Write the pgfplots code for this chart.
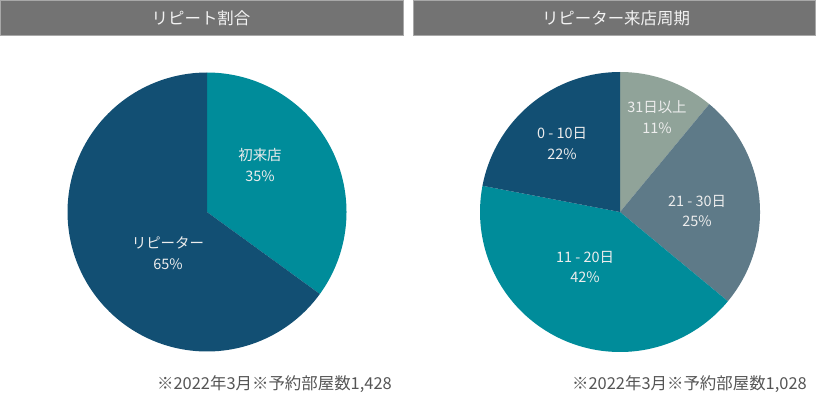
\documentclass[border=0pt]{standalone}
\usepackage{fontspec}
\setmainfont{Noto Sans CJK JP}
\usepackage{pgfplots}
\pgfplotsset{compat=1.18}
\definecolor{cdark}{HTML}{124F73}
\definecolor{cteal}{HTML}{008C9A}
\definecolor{cslate}{HTML}{5E7A88}
\definecolor{cgreen}{HTML}{90A399}
\definecolor{chead}{HTML}{737373}
\definecolor{cheadb}{HTML}{A8A8A8}
\definecolor{cnote}{HTML}{555555}
% #1 cumulative percent before slice, #2 slice percent, #3 colour
\newcommand\slice[3]{%
  \addplot[fill=#3, draw=none, domain={90-3.6*(#1+#2)}:{90-3.6*(#1)}, samples=120]
    ({cos(x)},{sin(x)}) -- (axis cs:0,0) -- cycle;}
\tikzset{plab/.style={font=\fontsize{14.5}{21}\selectfont, text=white!93!black, align=center}}
\pgfplotsset{pieaxis/.style={hide axis, scale only axis, clip=false,
  xmin=-1, xmax=1, ymin=-1, ymax=1, anchor=center}}
\begin{document}
\begin{tikzpicture}[x=1bp,y=1bp]
\useasboundingbox (0,0) rectangle (816,398);
% headers
\fill[chead, draw=cheadb, line width=1bp] (0.5,362.5) rectangle (403.5,397.5);
\fill[chead, draw=cheadb, line width=1bp] (413.5,362.5) rectangle (815.5,397.5);
\node[text=white!95!black, font=\fontsize{16.5}{18}\selectfont] at (201,380) {リピート割合};
\node[text=white!95!black, font=\fontsize{16.5}{18}\selectfont] at (616,380) {リピーター来店周期};
% left pie
\begin{axis}[pieaxis, width=279bp, height=279bp, at={(207bp,186bp)}]
\slice{0}{35}{cteal}
\slice{35}{65}{cdark}
\node[plab] at (axis cs:0.38,0.337) {初来店\\35\%};
\node[plab] at (axis cs:-0.28,-0.294) {リピーター\\65\%};
\end{axis}
% right pie
\begin{axis}[pieaxis, width=280bp, height=280bp, at={(620bp,186bp)}]
\slice{0}{11}{cgreen}
\slice{11}{25}{cslate}
\slice{36}{42}{cteal}
\slice{78}{22}{cdark}
\node[plab] at (axis cs:0.264,0.679) {31日以上\\11\%};
\node[plab] at (axis cs:0.55,0.007) {21 - 30日\\25\%};
\node[plab] at (axis cs:-0.25,-0.393) {11 - 20日\\42\%};
\node[plab] at (axis cs:-0.414,0.486) {0 - 10日\\22\%};
\end{axis}
% footnotes
\node[anchor=base east, text=cnote, font=\fontsize{16.5}{18}\selectfont, inner sep=0] at (392,9) {※2022年3月※予約部屋数1,428};
\node[anchor=base east, text=cnote, font=\fontsize{16.5}{18}\selectfont, inner sep=0] at (807,9) {※2022年3月※予約部屋数1,028};
\end{tikzpicture}
\end{document}
